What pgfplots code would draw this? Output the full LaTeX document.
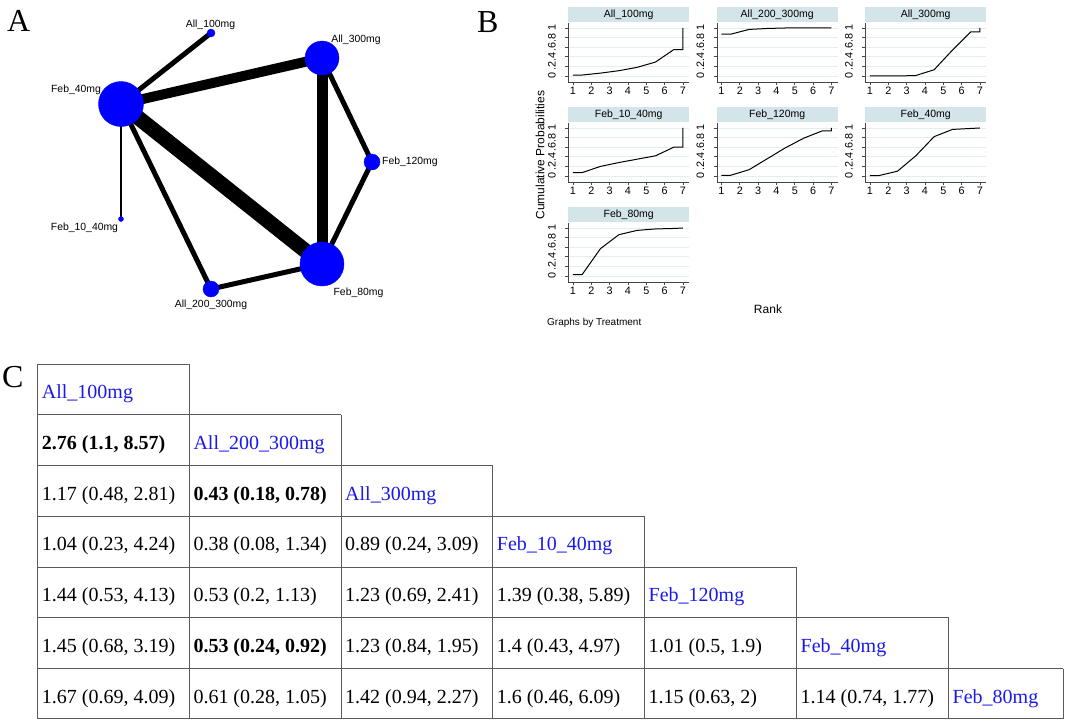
\documentclass[border=0pt]{standalone}
\usepackage{pgfplots}
\pgfplotsset{compat=1.18}
\usepackage{fontspec}
\setmainfont{Liberation Sans}
\newfontfamily\serif{Liberation Serif}

\definecolor{netblue}{RGB}{0,0,255}
\definecolor{tabblue}{RGB}{25,25,235}
\definecolor{strip}{RGB}{212,229,234}
\definecolor{gridc}{RGB}{228,237,240}
\definecolor{axc}{RGB}{70,70,70}
\definecolor{tabline}{RGB}{90,90,90}

\newcommand\fs[1]{\fontsize{#1bp}{#1bp}\selectfont}

\pgfplotsset{
  rankpanel/.style={
    scale only axis, width=120.6bp, height=59bp,
    xmin=0.75, xmax=7.33, ymin=-0.125, ymax=1.104,
    axis lines*=left, axis line style={axc, line width=0.8bp},
    xtick={1,...,7}, ytick={0,0.2,0.4,0.6,0.8,1},
    yticklabels={0,.2,.4,.6,.8,1},
    ymajorgrids, grid style={gridc, line width=0.8bp},
    tick align=outside, major tick length=3bp,
    tick style={axc, line width=0.7bp},
    ticklabel style={font=\fs{10.8}, inner sep=1.5bp},
    yticklabel style={xshift=-8bp, rotate=90, anchor=south},
    /pgf/number format/assume math mode=true,
    clip=false,
  }
}

% x, y (bp, bottom left of plot area), title, curve
\newcommand\rankpanel[4]{%
\begin{axis}[rankpanel, at={(#1bp,#2bp)}, anchor=south west]
  \fill[strip] ([yshift=0.6bp]rel axis cs:0,1) rectangle ([yshift=15.5bp]rel axis cs:1,1);
  \node[font=\fs{10.5}] at ([yshift=8bp]rel axis cs:0.5,1) {#3};
  \addplot[black, line width=1bp, mark=none] coordinates {#4};
\end{axis}}

\begin{document}
\begin{tikzpicture}
\path (0,0) rectangle (1065bp,720bp);

% ---- panels A and C share one hidden pixel-sized axis
\begin{axis}[at={(0bp,0bp)}, anchor=south west, scale only axis,
  width=1065bp, height=720bp, xmin=0, xmax=1065, ymin=0, ymax=720,
  y dir=reverse, hide axis, clip=false]

  % network edges
  \addplot[black, line width=5bp]  coordinates {(121,104) (211,33)};
  \addplot[black, line width=10bp] coordinates {(121,104) (322,58)};
  \addplot[black, line width=15bp] coordinates {(121,104) (322,264)};
  \addplot[black, line width=2.5bp] coordinates {(121,104) (121,219)};
  \addplot[black, line width=5bp]  coordinates {(121,104) (211,289)};
  \addplot[black, line width=11bp] coordinates {(322,58) (322,264)};
  \addplot[black, line width=5bp]  coordinates {(322,58) (372,162)};
  \addplot[black, line width=5bp]  coordinates {(372,162) (322,264)};
  \addplot[black, line width=5bp]  coordinates {(211,289) (322,264)};

  % network nodes
  \addplot[only marks, mark=*, mark size=22.5bp, netblue] coordinates {(121,104)};
  \addplot[only marks, mark=*, mark size=22bp, netblue] coordinates {(322,264)};
  \addplot[only marks, mark=*, mark size=17bp, netblue] coordinates {(322,58)};
  \addplot[only marks, mark=*, mark size=8bp, netblue] coordinates {(372,162)};
  \addplot[only marks, mark=*, mark size=8bp, netblue] coordinates {(211,289)};
  \addplot[only marks, mark=*, mark size=4bp, netblue] coordinates {(211,33)};
  \addplot[only marks, mark=*, mark size=2.5bp, netblue] coordinates {(121,219)};

  \begin{scope}[every node/.style={font=\fs{10.4}, inner sep=0pt}]
    \node at (210.5,25) {All\_100mg};
    \node at (356,40) {All\_300mg};
    \node at (76,90) {Feb\_40mg};
    \node[anchor=west] at (382,162) {Feb\_120mg};
    \node at (84.5,228) {Feb\_10\_40mg};
    \node at (211,305) {All\_200\_300mg};
    \node at (358.5,293) {Feb\_80mg};
  \end{scope}

  % panel letters
  \node[font=\serif\fs{32}, anchor=base west, inner sep=0pt] at (7,31) {A};
  \node[font=\serif\fs{32}, anchor=base west, inner sep=0pt] at (477,32) {B};
  \node[font=\serif\fs{32}, anchor=base west, inner sep=0pt] at (2,387) {C};

  % panel B texts
  \node[font=\fs{12}, rotate=90] at (540,155) {Cumulative Probabilities};
  \node[font=\fs{12}] at (768,309) {Rank};
  \node[font=\fs{10}, anchor=west, inner sep=0pt] at (547,323) {Graphs by Treatment};

  % league table grid
  \begin{scope}[tabline, line width=0.8bp]
    \draw (37.7,364) -- (189.3,364);
    \draw (37.7,414.7) -- (341,414.7);
    \draw (37.7,465.5) -- (492.7,465.5);
    \draw (37.7,516.2) -- (644.5,516.2);
    \draw (37.7,567) -- (796.5,567);
    \draw (37.7,617.7) -- (948.5,617.7);
    \draw (37.7,668.5) -- (1063,668.5);
    \draw (37.7,718.5) -- (1063,718.5);
    \draw (37.7,364) -- (37.7,718.5);
    \draw (189.3,364) -- (189.3,718.5);
    \draw (341,414.7) -- (341,718.5);
    \draw (492.7,465.5) -- (492.7,718.5);
    \draw (644.5,516.2) -- (644.5,718.5);
    \draw (796.5,567) -- (796.5,718.5);
    \draw (948.5,617.7) -- (948.5,718.5);
    \draw (1063,668.5) -- (1063,718.5);
  \end{scope}

  \begin{scope}[every node/.style={font=\serif\fs{20}, anchor=base west, inner sep=0pt}]
    % row 0
    \node[tabblue] at (41.7,398.5) {All\_100mg};
    % row 1
    \node at (41.7,449.2) {\bfseries 2.76 (1.1, 8.57)};
    \node[tabblue] at (193.3,449.2) {All\_200\_300mg};
    % row 2
    \node at (41.7,500) {1.17 (0.48, 2.81)};
    \node at (193.3,500) {\bfseries 0.43 (0.18, 0.78)};
    \node[tabblue] at (345,500) {All\_300mg};
    % row 3
    \node at (41.7,550.7) {1.04 (0.23, 4.24)};
    \node at (193.3,550.7) {0.38 (0.08, 1.34)};
    \node at (345,550.7) {0.89 (0.24, 3.09)};
    \node[tabblue] at (496.7,550.7) {Feb\_10\_40mg};
    % row 4
    \node at (41.7,601.5) {1.44 (0.53, 4.13)};
    \node at (193.3,601.5) {0.53 (0.2, 1.13)};
    \node at (345,601.5) {1.23 (0.69, 2.41)};
    \node at (496.7,601.5) {1.39 (0.38, 5.89)};
    \node[tabblue] at (648.5,601.5) {Feb\_120mg};
    % row 5
    \node at (41.7,652.2) {1.45 (0.68, 3.19)};
    \node at (193.3,652.2) {\bfseries 0.53 (0.24, 0.92)};
    \node at (345,652.2) {1.23 (0.84, 1.95)};
    \node at (496.7,652.2) {1.4 (0.43, 4.97)};
    \node at (648.5,652.2) {1.01 (0.5, 1.9)};
    \node[tabblue] at (800.5,652.2) {Feb\_40mg};
    % row 6
    \node at (41.7,703) {1.67 (0.69, 4.09)};
    \node at (193.3,703) {0.61 (0.28, 1.05)};
    \node at (345,703) {1.42 (0.94, 2.27)};
    \node at (496.7,703) {1.6 (0.46, 6.09)};
    \node at (648.5,703) {1.15 (0.63, 2)};
    \node at (800.5,703) {1.14 (0.74, 1.77)};
    \node[tabblue] at (952.5,703) {Feb\_80mg};
  \end{scope}
\end{axis}

% ---- panel B: cumulative rank probabilities
\rankpanel{568.4}{638}{All\_100mg}{(1,0.02) (1.5,0.02) (2.5,0.06) (3.5,0.11) (4.5,0.18) (5.5,0.29) (6.5,0.55) (7,0.55) (7,1)}
\rankpanel{716.9}{638}{All\_200\_300mg}{(1,0.87) (1.5,0.87) (2.5,0.97) (3.5,0.99) (4.5,1) (5.5,1) (6.5,1) (7,1)}
\rankpanel{865.4}{638}{All\_300mg}{(1,0) (1.5,0) (2.5,0) (3.5,0.01) (4.5,0.13) (5.5,0.54) (6.5,0.92) (7,0.92) (7,1)}
\rankpanel{568.4}{538}{Feb\_10\_40mg}{(1,0.07) (1.5,0.07) (2.5,0.2) (3.5,0.28) (4.5,0.35) (5.5,0.42) (6.5,0.6) (7,0.6) (7,1)}
\rankpanel{716.9}{538}{Feb\_120mg}{(1,0.015) (1.5,0.015) (2.5,0.13) (3.5,0.36) (4.5,0.59) (5.5,0.79) (6.5,0.94) (7,0.94) (7,1)}
\rankpanel{865.4}{538}{Feb\_40mg}{(1,0.01) (1.5,0.01) (2.5,0.1) (3.5,0.42) (4.5,0.82) (5.5,0.97) (6.5,0.99) (7,1)}
\rankpanel{568.4}{438}{Feb\_80mg}{(1,0.03) (1.5,0.03) (2.5,0.57) (3.5,0.86) (4.5,0.95) (5.5,0.98) (6.5,0.99) (7,1)}
\end{tikzpicture}
\end{document}
